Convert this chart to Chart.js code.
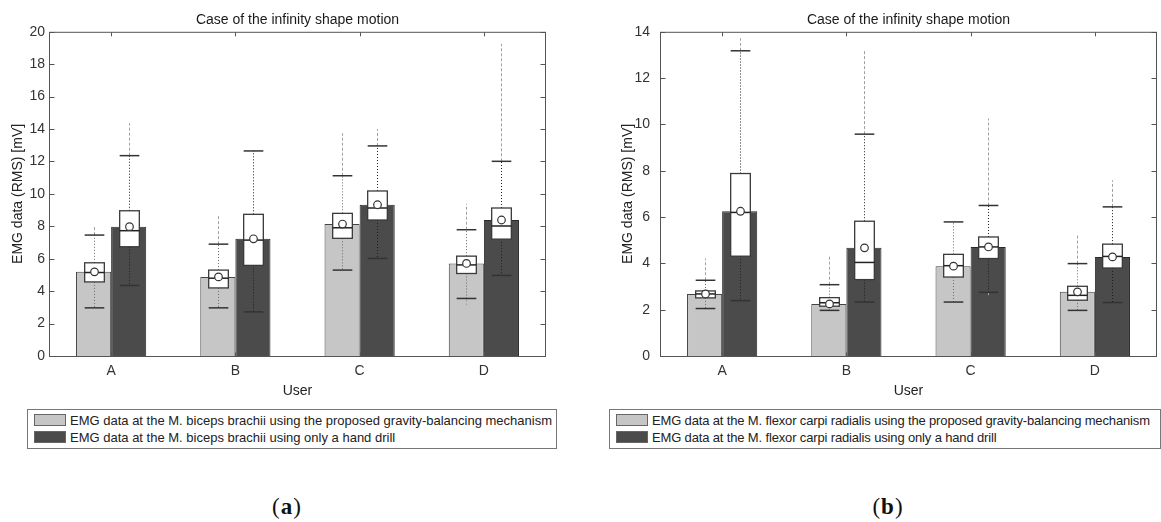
<!DOCTYPE html>
<html>
<head>
<meta charset="utf-8">
<script src="https://cdn.jsdelivr.net/npm/chart.js@4.4.1/dist/chart.umd.min.js"></script>
<style>
  body { margin: 0; background: #fff; }
  #wrap { position: relative; width: 1161px; height: 522px; overflow: hidden; font-family: 'Liberation Sans', Arial, sans-serif; }
  canvas { position: absolute; top: 0; }
  .legend { position: absolute; border: 1px solid #777; box-sizing: border-box; background: #fff; }
  .legend .row { position: absolute; left: 6px; height: 13px; font-size: 13px; line-height: 13px; color: #222; white-space: nowrap; }
  #legendB .row { letter-spacing: -0.15px; }
  .legend .sw { display: inline-block; width: 32px; height: 12px; box-sizing: border-box; border: 1px solid #666; vertical-align: top; margin-right: 4px; letter-spacing: 0; }
  .panel-tag { position: absolute; width: 80px; text-align: center; font-family: 'Liberation Serif', 'DejaVu Serif', serif; font-size: 23px; line-height: 26px; color: #111; letter-spacing: 1px; }
  .panel-tag b { font-weight: bold; }
</style>
</head>
<body>
<div id="wrap">
  <canvas id="chartA" width="580" height="400" style="left:0"></canvas>
  <canvas id="chartB" width="581" height="400" style="left:580px"></canvas>
  <div class="legend" id="legendA" style="left:27px; top:409px; width:530px; height:40px"></div>
  <div class="legend" id="legendB" style="left:609px; top:409px; width:552px; height:40px"></div>
  <div class="panel-tag" style="left:247px; top:494px">(<b>a</b>)</div>
  <div class="panel-tag" style="left:848px; top:494px">(<b>b</b>)</div>
</div>
<script>
const users = ['A', 'B', 'C', 'D'];
const chartTitle = 'Case of the infinity shape motion';
const yTitle = 'EMG data (RMS) [mV]';
const xTitle = 'User';

// (a) M. biceps brachii, gravity-balancing mechanism
const bicepsGbMean  = [5.19, 4.88, 8.14, 5.71];
const bicepsGbQ1    = [4.57, 4.20, 7.26, 5.09];
const bicepsGbMed   = [5.15, 4.80, 7.91, 5.62];
const bicepsGbQ3    = [5.75, 5.30, 8.80, 6.16];
const bicepsGbLo    = [2.97, 2.97, 5.30, 3.55];
const bicepsGbHi    = [7.46, 6.90, 11.12, 7.79];
const bicepsGbOutLo = [2.97, 2.97, 5.30, 3.13];
const bicepsGbOutHi = [8.03, 8.70, 13.74, 9.38];

// (a) M. biceps brachii, hand drill only
const bicepsHdMean  = [7.98, 7.23, 9.33, 8.39];
const bicepsHdQ1    = [6.74, 5.59, 8.39, 7.21];
const bicepsHdMed   = [7.73, 7.15, 9.13, 8.02];
const bicepsHdQ3    = [8.96, 8.74, 10.18, 9.13];
const bicepsHdLo    = [4.35, 2.72, 6.02, 4.97];
const bicepsHdHi    = [12.36, 12.65, 12.96, 12.01];
const bicepsHdOutLo = [4.35, 2.72, 6.02, 4.97];
const bicepsHdOutHi = [14.36, 12.65, 14.00, 19.26];

// (b) M. flexor carpi radialis, gravity-balancing mechanism
const flexorGbMean  = [2.68, 2.25, 3.88, 2.77];
const flexorGbQ1    = [2.51, 2.15, 3.41, 2.41];
const flexorGbMed   = [2.68, 2.30, 3.90, 2.62];
const flexorGbQ3    = [2.81, 2.52, 4.39, 3.01];
const flexorGbLo    = [2.05, 1.97, 2.33, 1.97];
const flexorGbHi    = [3.27, 3.08, 5.79, 3.99];
const flexorGbOutLo = [2.00, 1.97, 2.33, 1.97];
const flexorGbOutHi = [4.21, 4.31, 5.79, 5.26];

// (b) M. flexor carpi radialis, hand drill only
const flexorHdMean  = [6.25, 4.67, 4.71, 4.28];
const flexorHdQ1    = [4.31, 3.30, 4.21, 3.80];
const flexorHdMed   = [6.20, 4.04, 4.71, 4.30];
const flexorHdQ3    = [7.88, 5.82, 5.14, 4.83];
const flexorHdLo    = [2.39, 2.33, 2.75, 2.31];
const flexorHdHi    = [13.18, 9.58, 6.50, 6.44];
const flexorHdOutLo = [2.39, 2.33, 2.62, 2.31];
const flexorHdOutHi = [13.72, 13.21, 10.26, 7.59];

const legendA = [
  'EMG data at the M. biceps brachii using the proposed gravity-balancing mechanism',
  'EMG data at the M. biceps brachii using only a hand drill'
];
const legendB = [
  'EMG data at the M. flexor carpi radialis using the proposed gravity-balancing mechanism',
  'EMG data at the M. flexor carpi radialis using only a hand drill'
];

const lightFill = '#c6c6c6';
const darkFill = '#4b4b4b';

Chart.defaults.font.family = "'Liberation Sans', Arial, sans-serif";
Chart.defaults.color = '#333';

function seg(ctx, x1, y1, x2, y2) {
  ctx.beginPath();
  ctx.moveTo(x1, y1);
  ctx.lineTo(x2, y2);
  ctx.stroke();
}

// box, whiskers, median, mean marker on top of each bar
const boxPlotPlugin = {
  id: 'boxPlot',
  afterDatasetsDraw(chart) {
    const ctx = chart.ctx;
    const py = v => chart.scales.y.getPixelForValue(v);
    chart.data.datasets.forEach((ds, di) => {
      const s = ds.stats;
      if (!s) return;
      chart.getDatasetMeta(di).data.forEach((bar, i) => {
        const x = Math.round(bar.x) + 0.5;
        const half = bar.width * 0.28;
        ctx.save();

        // outliers beyond whisker caps
        ctx.strokeStyle = '#a0a0a0';
        ctx.lineWidth = 1;
        ctx.setLineDash([3, 2]);
        if (s.outHi[i] > s.hi[i]) seg(ctx, x, py(s.hi[i]), x, py(s.outHi[i]));
        if (s.outLo[i] < s.lo[i]) seg(ctx, x, py(s.lo[i]), x, py(s.outLo[i]));

        // dotted whiskers
        ctx.strokeStyle = ds.whiskerColor;
        ctx.setLineDash([1, 2]);
        seg(ctx, x, py(s.q3[i]), x, py(s.hi[i]));
        seg(ctx, x, py(s.q1[i]), x, py(s.lo[i]));
        ctx.setLineDash([]);

        // caps
        ctx.strokeStyle = '#333';
        ctx.lineWidth = 1.5;
        seg(ctx, x - half, py(s.hi[i]), x + half, py(s.hi[i]));
        seg(ctx, x - half, py(s.lo[i]), x + half, py(s.lo[i]));

        // box
        const top = py(s.q3[i]);
        const bot = py(s.q1[i]);
        ctx.fillStyle = '#fff';
        ctx.fillRect(x - half, top, half * 2, bot - top);
        ctx.strokeStyle = '#3a3a3a';
        ctx.lineWidth = 1.3;
        ctx.strokeRect(x - half, top, half * 2, bot - top);

        // median
        ctx.lineWidth = 1.5;
        ctx.strokeStyle = '#222';
        seg(ctx, x - half, py(s.med[i]), x + half, py(s.med[i]));

        // mean
        ctx.beginPath();
        ctx.arc(x, py(ds.data[i]), 3.8, 0, Math.PI * 2);
        ctx.fillStyle = '#fff';
        ctx.fill();
        ctx.lineWidth = 1.2;
        ctx.strokeStyle = '#333';
        ctx.stroke();
        ctx.restore();
      });
    });
  }
};

// matlab style box frame with inward ticks
const framePlugin = {
  id: 'frame',
  afterDraw(chart) {
    const {ctx, chartArea: a, scales: {x, y}} = chart;
    const L = a.left + 0.5, R = a.right - 0.5, T = a.top + 0.5, B = a.bottom + 0.5;
    ctx.save();
    ctx.strokeStyle = '#555';
    ctx.lineWidth = 1;
    ctx.strokeRect(L, T, R - L, B - T);
    y.ticks.forEach(t => {
      const p = Math.round(y.getPixelForValue(t.value)) + 0.5;
      seg(ctx, L, p, L + 5, p);
      seg(ctx, R - 5, p, R, p);
    });
    x.ticks.forEach((t, i) => {
      const p = Math.round(x.getPixelForTick(i)) + 0.5;
      seg(ctx, p, T, p, T + 4);
      seg(ctx, p, B, p, B - 4);
    });
    ctx.restore();
  }
};

function makeChart(id, p) {
  return new Chart(document.getElementById(id), {
    type: 'bar',
    data: {
      labels: users,
      datasets: [
        {
          label: p.labels[0],
          data: p.gb.mean,
          stats: p.gb,
          whiskerColor: '#6a6a6a',
          backgroundColor: lightFill,
          borderColor: '#444',
          borderWidth: 1
        },
        {
          label: p.labels[1],
          data: p.hd.mean,
          stats: p.hd,
          whiskerColor: '#1e1e1e',
          backgroundColor: darkFill,
          borderColor: '#2a2a2a',
          borderWidth: 1
        }
      ]
    },
    options: {
      responsive: false,
      devicePixelRatio: 1,
      animation: false,
      categoryPercentage: 0.565,
      barPercentage: 1,
      layout: { padding: { left: 0, right: p.padRight, top: 0, bottom: 0 } },
      plugins: {
        legend: { display: false },
        tooltip: { enabled: false },
        title: {
          display: true,
          text: chartTitle,
          fullSize: false,
          color: '#1a1a1a',
          font: { size: 14, weight: 'normal' },
          padding: { top: 12, bottom: 3 }
        }
      },
      scales: {
        x: {
          grid: { display: false, drawTicks: false },
          border: { display: false },
          ticks: { padding: 7, font: { size: 14 }, color: '#333' },
          title: { display: true, text: xTitle, font: { size: 14 }, color: '#222', padding: { top: 0, bottom: 0 } },
          afterFit: s => { s.height = 44; }
        },
        y: {
          min: 0,
          max: p.yMax,
          grid: { display: false, drawTicks: false },
          border: { display: false },
          ticks: { stepSize: 2, padding: p.tickPad, font: { size: 14 }, color: '#333' },
          title: { display: true, text: yTitle, font: { size: 14 }, color: '#222', padding: { top: p.titlePad, bottom: 0 } },
          afterFit: s => { s.width = p.axisWidth; }
        }
      }
    },
    plugins: [boxPlotPlugin, framePlugin]
  });
}

function makeLegend(id, labels) {
  const el = document.getElementById(id);
  const fills = [lightFill, darkFill];
  labels.forEach((txt, i) => {
    const row = document.createElement('div');
    row.className = 'row';
    row.style.top = (4 + i * 17) + 'px';
    const sw = document.createElement('span');
    sw.className = 'sw';
    sw.style.background = fills[i];
    row.appendChild(sw);
    row.appendChild(document.createTextNode(txt));
    el.appendChild(row);
  });
}

makeChart('chartA', {
  labels: legendA,
  yMax: 20,
  padRight: 34,
  axisWidth: 49,
  tickPad: 4,
  titlePad: 10,
  gb: { mean: bicepsGbMean, q1: bicepsGbQ1, med: bicepsGbMed, q3: bicepsGbQ3, lo: bicepsGbLo, hi: bicepsGbHi, outLo: bicepsGbOutLo, outHi: bicepsGbOutHi },
  hd: { mean: bicepsHdMean, q1: bicepsHdQ1, med: bicepsHdMed, q3: bicepsHdQ3, lo: bicepsHdLo, hi: bicepsHdHi, outLo: bicepsHdOutLo, outHi: bicepsHdOutHi }
});

makeChart('chartB', {
  labels: legendB,
  yMax: 14,
  padRight: 4,
  axisWidth: 80,
  tickPad: 10,
  titlePad: 40,
  gb: { mean: flexorGbMean, q1: flexorGbQ1, med: flexorGbMed, q3: flexorGbQ3, lo: flexorGbLo, hi: flexorGbHi, outLo: flexorGbOutLo, outHi: flexorGbOutHi },
  hd: { mean: flexorHdMean, q1: flexorHdQ1, med: flexorHdMed, q3: flexorHdQ3, lo: flexorHdLo, hi: flexorHdHi, outLo: flexorHdOutLo, outHi: flexorHdOutHi }
});

makeLegend('legendA', legendA);
makeLegend('legendB', legendB);
</script>
</body>
</html>
